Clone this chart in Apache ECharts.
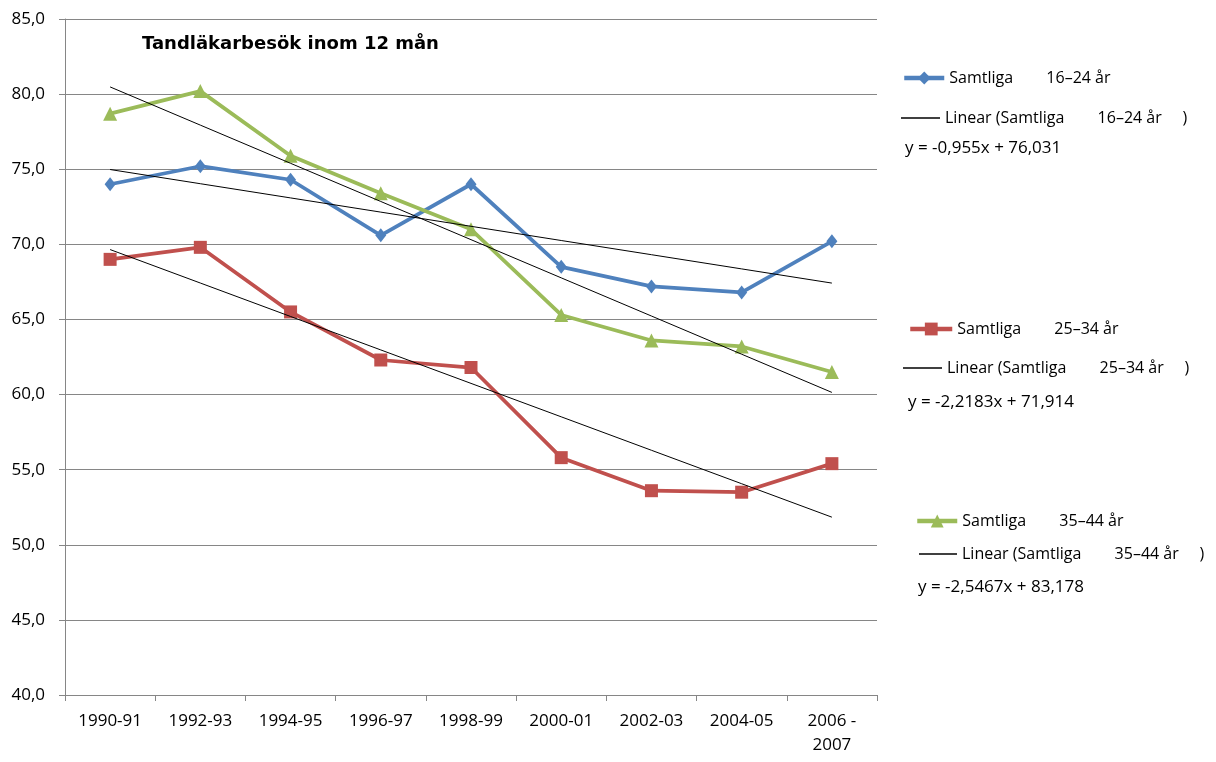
<!DOCTYPE html>
<html><head><meta charset="utf-8">
<script src="https://cdn.jsdelivr.net/npm/echarts@6/dist/echarts.min.js"></script>
<style>html,body{margin:0;padding:0;background:#fff}#c{width:1216px;height:762px}</style>
</head><body><div id="c"></div>
<script>
const categories = ['1990-91','1992-93','1994-95','1996-97','1998-99','2000-01','2002-03','2004-05','2006 -\n2007'];
const yTicks = [40,45,50,55,60,65,70,75,80,85];
const age1624 = [74.0,75.2,74.3,70.6,74.0,68.5,67.2,66.8,70.2];
const age2534 = [69.0,69.8,65.5,62.3,61.8,55.8,53.6,53.5,55.4];
const age3544 = [78.7,80.2,75.9,73.4,71.0,65.3,63.6,63.2,61.5];
const seriesNames = ['Samtliga        16\u201324 år','Samtliga        25\u201334 år','Samtliga        35\u201344 år'];
const trendNames = ['Linear (Samtliga        16\u201324 år     )','Linear (Samtliga        25\u201334 år     )','Linear (Samtliga        35\u201344 år     )'];
const equations = ['y = -0,955x + 76,031','y = -2,2183x + 71,914','y = -2,5467x + 83,178'];
const title = 'Tandläkarbesök inom 12 mån';

function linReg(arr){
  const n=arr.length; let sx=0,sy=0,sxx=0,sxy=0;
  arr.forEach((v,i)=>{const x=i+1;sx+=x;sy+=v;sxx+=x*x;sxy+=x*v;});
  const b=(n*sxy-sx*sy)/(n*sxx-sx*sx); const a=(sy-b*sx)/n;
  return arr.map((v,i)=>+(a+b*(i+1)).toFixed(3));
}
const colors=['#4F81BD','#C0504D','#9BBB59'];
const symbols=['diamond','rect','triangle'];
const symSizes=[[11,14],13,14];
const datasets=[age1624,age2534,age3544];
const series=[];
datasets.forEach((d,i)=>{
  series.push({name:seriesNames[i],type:'line',data:d,symbol:symbols[i],symbolSize:symSizes[i],
    lineStyle:{width:3.75,color:colors[i]},itemStyle:{color:colors[i]},z:3});
});
datasets.forEach((d,i)=>{
  series.push({name:trendNames[i],type:'line',data:linReg(d),symbol:'none',
    lineStyle:{width:1,color:'#000'},itemStyle:{color:'#000'},z:4});
});
const font='"Open Sans", "Liberation Sans", sans-serif';
// [left, top, itemWidth, isTrend]
const legendPos=[[897,65,40,0],[896,105,39,1],[903,316,42,0],[898,355,39,1],[910,508,40,0],[914,541,38,1]];
const legendOrder=[seriesNames[0],trendNames[0],seriesNames[1],trendNames[1],seriesNames[2],trendNames[2]];
const legends=legendOrder.map((nm,i)=>{
  const p=legendPos[i];
  const o={left:p[0],top:p[1],itemWidth:p[2],itemGap:0,selectedMode:false,
    textStyle:{fontFamily:font,fontSize:16,color:'#000'}};
  if(p[3]){ o.data=[{name:nm,icon:'rect'}]; o.itemHeight=1.5; o.itemStyle={color:'#000'}; }
  else { o.data=[nm]; o.itemHeight=16; o.lineStyle={width:4.5}; }
  return o;
});
const eqPos=[[905,140],[908,394],[918,579]];
const chart=echarts.init(document.getElementById('c'),null,{renderer:'canvas'});
chart.setOption({
  animation:false,
  backgroundColor:'#fff',
  title:{text:title,left:137,top:30,textStyle:{fontFamily:'"DejaVu Sans", sans-serif',fontSize:18,fontWeight:'bold',color:'#000'}},
  legend:legends,
  graphic:equations.map((t,i)=>({type:'text',left:eqPos[i][0],top:eqPos[i][1],
    style:{text:t,fontFamily:font,fontSize:17,fill:'#000'}})),
  grid:{left:65,top:19,width:812,height:676},
  xAxis:{type:'category',data:categories,boundaryGap:true,
    axisLine:{lineStyle:{color:'#868686'}},
    axisTick:{show:true,length:6,lineStyle:{color:'#868686'}},
    axisLabel:{fontFamily:font,fontSize:17,color:'#000',margin:14,lineHeight:24}},
  yAxis:{type:'value',min:yTicks[0],max:yTicks[yTicks.length-1],interval:5,
    axisLine:{show:true,lineStyle:{color:'#868686'}},
    axisTick:{show:true,length:6,lineStyle:{color:'#868686'}},
    splitLine:{lineStyle:{color:'#868686',width:1}},
    axisLabel:{fontFamily:font,fontSize:17,color:'#000',margin:20,formatter:v=>v.toFixed(1).replace('.',',')}},
  series:series
});
</script></body></html>
